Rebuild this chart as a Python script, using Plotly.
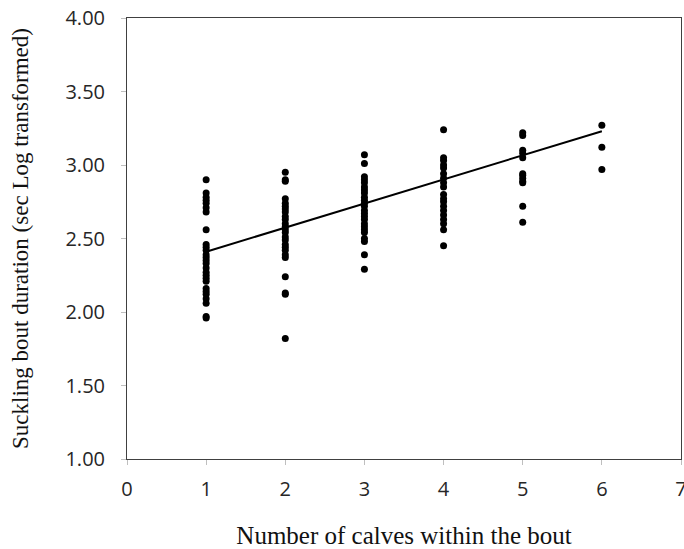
import plotly.graph_objects as go

# Data
x1 = [2.90, 2.81, 2.78, 2.76, 2.74, 2.71, 2.68, 2.56, 2.46, 2.44, 2.42, 2.39, 2.37, 2.35,
      2.33, 2.30, 2.27, 2.25, 2.23, 2.21, 2.16, 2.14, 2.12, 2.09, 2.06, 1.97, 1.96]
x2 = [2.95, 2.90, 2.89, 2.77, 2.74, 2.72, 2.70, 2.68, 2.65, 2.63, 2.60, 2.58, 2.56, 2.54,
      2.51, 2.49, 2.46, 2.44, 2.42, 2.39, 2.37, 2.24, 2.13, 2.12, 1.82]
x3 = [3.07, 3.01, 2.92, 2.90, 2.88, 2.85, 2.83, 2.81, 2.78, 2.76, 2.74, 2.72, 2.69, 2.67,
      2.65, 2.63, 2.60, 2.58, 2.56, 2.54, 2.50, 2.48, 2.39, 2.29]
x4 = [3.24, 3.05, 3.03, 3.00, 2.98, 2.94, 2.91, 2.88, 2.85, 2.80, 2.77, 2.75, 2.72, 2.69,
      2.66, 2.63, 2.60, 2.56, 2.45]
x5 = [3.22, 3.20, 3.10, 3.08, 3.05, 2.94, 2.93, 2.91, 2.89, 2.88, 2.72, 2.61]
x6 = [3.27, 3.12, 2.97]
groups = [x1, x2, x3, x4, x5, x6]
calves = [1, 2, 3, 4, 5, 6]

fit_x = [1, 6]
fit_y = [2.41, 3.23]

xs, ys = [], []
for c, g in zip(calves, groups):
    xs += [c] * len(g)
    ys += g

fig = go.Figure()
fig.add_trace(go.Scatter(x=xs, y=ys, mode="markers",
                         marker=dict(color="black", size=7), showlegend=False))
fig.add_trace(go.Scatter(x=fit_x, y=fit_y, mode="lines",
                         line=dict(color="black", width=2), showlegend=False))

tickfont = dict(family="Open Sans", size=20, color="#262626")
fig.update_layout(
    width=684, height=549,
    margin=dict(l=127, r=3, t=18, b=90),
    plot_bgcolor="white", paper_bgcolor="white",
    xaxis=dict(range=[0, 7], tickmode="linear", dtick=1, showgrid=False, zeroline=False,
               showline=True, linecolor="#404040", linewidth=1, mirror=True,
               ticks="outside", ticklen=5, tickcolor="#bfbfbf", tickfont=tickfont,
               ticklabelstandoff=7, ticklabeloverflow="allow", automargin=False,
               title=dict(text="Number of calves within the bout",
                          font=dict(family="Liberation Serif", size=25, color="#111"),
                          standoff=26)),
    yaxis=dict(range=[1, 4], tickmode="linear", dtick=0.5, tickformat=".2f",
               showgrid=False, zeroline=False, automargin=False,
               showline=True, linecolor="#404040", linewidth=1, mirror=True,
               ticks="outside", ticklen=5, tickcolor="#bfbfbf", tickfont=tickfont,
               ticklabelstandoff=12,
               title=dict(text="Suckling bout duration (sec Log transformed)",
                          font=dict(family="Liberation Serif", size=23, color="#111"),
                          standoff=30)),
)
fig.write_html("out.html")
